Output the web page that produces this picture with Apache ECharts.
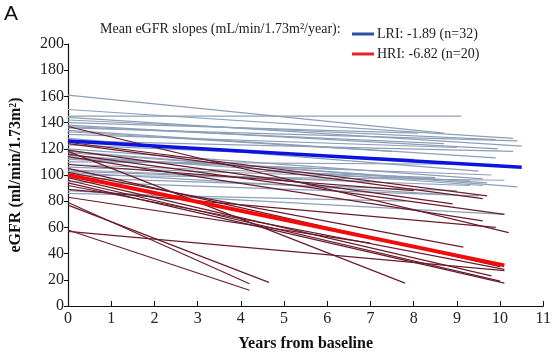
<!DOCTYPE html>
<html lang="en">
<head>
  <meta charset="UTF-8">
  <script type="text/javascript" src="https://cdn.jsdelivr.net/npm/echarts@6/dist/echarts.min.js"></script>
  <title>eGFR slopes</title>
  <style type="text/css">
    * { margin: 0; padding: 0; }
    html, body { width: 100%; height: 100%; background-color: #fff; }
    #chart { width: 554px; height: 357px; }
  </style>
</head>
<body>
<div id="chart"></div>
<script type="text/javascript">
  // LRI patients: eGFR at baseline, last follow-up year, eGFR at last follow-up
  var lriStart   = [161, 145, 150, 144, 142, 140, 138, 137, 136, 134, 133, 131, 128, 126, 123, 120, 118, 117, 115, 113, 112, 110, 108, 106, 104, 102, 100, 98, 95, 88, 86, 103];
  var lriEndYear = [8.7, 9.1, 10.3, 10.5, 9.9, 8.1, 9.95, 8.7, 10.4, 9.9, 7.5, 9.0, 9.5, 10.3, 8.0, 9.6, 10.4, 9.7, 9.6, 6.5, 9.8, 10.0, 8.5, 9.3, 7.0, 8.8, 10.1, 9.0, 9.5, 10.1, 7.8, 9.3];
  var lriEnd     = [132, 145, 128, 122, 127, 132, 120, 124, 126, 113, 118, 121, 103, 118, 112, 97, 91, 94, 92, 104, 100, 108, 98, 96, 95, 85, 96, 88, 84, 70, 80, 92];

  // HRI patients
  var hriStart   = [137, 125, 124, 119, 118, 116, 114, 108, 105, 102, 98, 96, 94, 92, 89, 83, 79, 77, 58, 57];
  var hriEndYear = [10.2, 9.7, 9.6, 8.9, 7.8, 10.1, 9.6, 8.0, 10.0, 9.15, 9.8, 10.0, 10.1, 10.1, 9.9, 7.0, 4.2, 4.65, 4.2, 10.1];
  var hriEnd     = [56, 84, 82, 78, 17.5, 70, 65, 88, 30, 45, 23, 19, 17.5, 28, 60, 48, 17, 18, 12, 27];

  // group means: [year, eGFR]
  var meanLri = [[0, 126], [10.5, 106]];
  var meanHri = [[0, 100], [10.1, 31]];

  var xTicks = [0, 11, 1];
  var yTicks = [0, 200, 20];

  var serif = 'Liberation Serif';
  var series = [];

  function thin(start, endYear, end, color) {
    for (var i = 0; i < start.length; i++) {
      series.push({
        type: 'line',
        silent: true,
        symbol: 'none',
        data: [[0, start[i]], [endYear[i], end[i]]],
        lineStyle: { color: color, width: 1.2 },
        z: 2
      });
    }
  }
  thin(lriStart, lriEndYear, lriEnd, '#8d9fb8');
  thin(hriStart, hriEndYear, hriEnd, '#6a1c2c');

  series.push({
    name: 'LRI: -1.89 (n=32)',
    type: 'line',
    symbol: 'none',
    data: meanLri,
    lineStyle: { color: '#0a14e0', width: 3.5 },
    itemStyle: { color: '#2a4fa8' },
    z: 5
  });
  series.push({
    name: 'HRI: -6.82 (n=20)',
    type: 'line',
    symbol: 'none',
    data: meanHri,
    lineStyle: { color: '#f50a0a', width: 4 },
    itemStyle: { color: '#e8202a' },
    z: 6
  });

  var myChart = echarts.init(document.getElementById('chart'));
  var option = {
    animation: false,
    grid: { left: 67, right: 6, top: 44, bottom: 50 },
    graphic: [
      { type: 'text', left: 4, top: 4, style: { text: 'A', font: '21px Liberation Sans', fill: '#111' } },
      { type: 'text', left: 100, top: 22, style: { text: 'Mean eGFR slopes (mL/min/1.73m²/year):', font: '14px Liberation Serif', fill: '#222' } }
    ],
    legend: {
      orient: 'vertical',
      left: 347,
      top: 22,
      itemGap: 6,
      itemWidth: 22,
      itemHeight: 3,
      icon: 'rect',
      textStyle: { fontFamily: serif, fontSize: 14, color: '#222', padding: [0, 0, 0, -2] },
      data: ['LRI: -1.89 (n=32)', 'HRI: -6.82 (n=20)']
    },
    xAxis: {
      type: 'value',
      min: xTicks[0],
      max: xTicks[1],
      interval: xTicks[2],
      name: 'Years from baseline',
      nameLocation: 'middle',
      nameGap: 30,
      nameTextStyle: { fontFamily: serif, fontSize: 16, fontWeight: 'bold', color: '#111' },
      axisLine: { lineStyle: { color: '#111', width: 1.2 } },
      axisTick: { inside: true, length: 5, lineStyle: { color: '#111' } },
      axisLabel: { fontFamily: serif, fontSize: 16, color: '#222', margin: 5 },
      splitLine: { show: false }
    },
    yAxis: {
      type: 'value',
      min: yTicks[0],
      max: yTicks[1],
      interval: yTicks[2],
      name: 'eGFR (ml/min/1.73m²)',
      nameLocation: 'middle',
      nameRotate: 90,
      nameGap: 44,
      nameTextStyle: { fontFamily: serif, fontSize: 16, fontWeight: 'bold', color: '#111' },
      axisLine: { show: true, lineStyle: { color: '#111', width: 1.2 } },
      axisTick: { show: true, length: 4, lineStyle: { color: '#111' } },
      axisLabel: { fontFamily: serif, fontSize: 16, color: '#222', margin: 4 },
      splitLine: { show: false }
    },
    series: series
  };
  myChart.setOption(option);
</script>
</body>
</html>
